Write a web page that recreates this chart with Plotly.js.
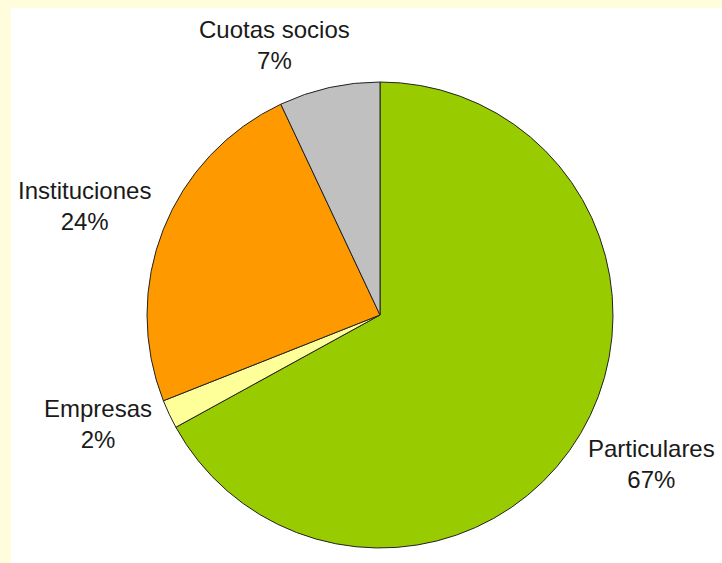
<!DOCTYPE html>
<html>
<head>
<meta charset="utf-8">
<script src="https://cdn.plot.ly/plotly-3.0.1.min.js"></script>
<style>
  html, body { margin: 0; padding: 0; background: #FFFDDC; width: 722px; height: 563px; overflow: hidden; }
  #chart { position: absolute; left: 11px; top: 8px; width: 711px; height: 555px; background: #ffffff; }
</style>
</head>
<body>
<div id="chart"></div>
<script>
const categories = ["Particulares", "Empresas", "Instituciones", "Cuotas socios"];
const values = [67, 2, 24, 7];
const colors = ["#99CC00", "#FFFF99", "#FF9900", "#C0C0C0"];
const labelPos = [[0.9015, 0.178], [0.122, 0.250], [0.104, 0.643], [0.371, 0.933]];

const total = values.reduce((a, b) => a + b, 0);

const trace = {
  type: "pie",
  labels: categories,
  values: values,
  sort: false,
  direction: "clockwise",
  rotation: 0,
  textinfo: "none",
  hoverinfo: "label+percent",
  marker: { colors: colors, line: { color: "#222222", width: 1 } },
  domain: { x: [0.1913, 0.8467], y: [0.027, 0.8667] },
  showlegend: false
};

const annotations = categories.map((c, i) => ({
  xref: "paper", yref: "paper",
  x: labelPos[i][0], y: labelPos[i][1],
  xanchor: "center", yanchor: "middle",
  text: c + "<br>" + Math.round(values[i] / total * 100) + "%",
  showarrow: false,
  align: "center",
  font: { family: "Liberation Sans, Arial, sans-serif", size: 24, color: "#1a1a1a" }
}));

const layout = {
  width: 711, height: 555,
  margin: { l: 0, r: 0, t: 0, b: 0 },
  paper_bgcolor: "#ffffff",
  plot_bgcolor: "#ffffff",
  annotations: annotations
};

Plotly.newPlot("chart", [trace], layout, { displayModeBar: false, staticPlot: true });
</script>
</body>
</html>
